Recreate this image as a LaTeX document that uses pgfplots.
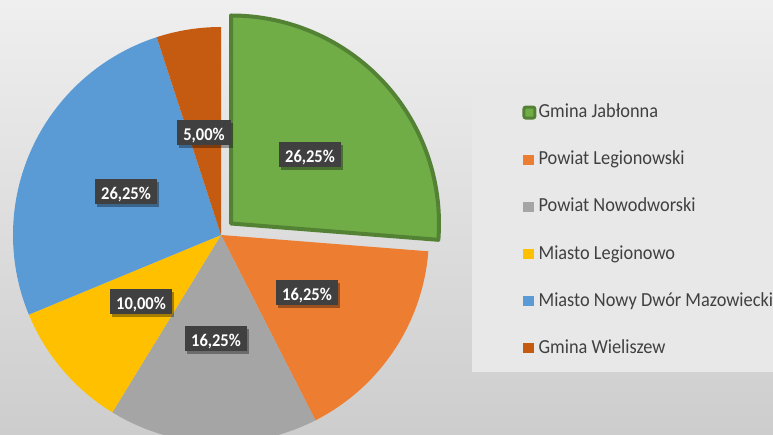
\documentclass[border=0pt]{standalone}
\usepackage{pgfplots}
\pgfplotsset{compat=1.18}
\usepackage{fontspec}
\setmainfont{Carlito}[FakeStretch=0.92]
\usetikzlibrary{shadows}

\definecolor{cJab}{HTML}{70AD47}
\definecolor{cJabE}{HTML}{548235}
\definecolor{cPL}{HTML}{ED7D31}
\definecolor{cPN}{HTML}{A5A5A5}
\definecolor{cML}{HTML}{FFC000}
\definecolor{cMN}{HTML}{5B9BD5}
\definecolor{cGW}{HTML}{C55A11}
\definecolor{lblbg}{HTML}{404040}
\definecolor{legbg}{HTML}{E8E8E8}
\definecolor{legtxt}{HTML}{404040}
\definecolor{bgtop}{HTML}{EFEFEF}
\definecolor{bgbot}{HTML}{CDCDCD}

% #1,#2 centre (axis units = bp), #3 start (percent), #4 value (percent), #5 style
\newcommand{\pieslice}[5]{%
  \path[#5] (axis cs:#1,#2) -- ++({90-3.6*(#3)}:208bp)
    arc[start angle={90-3.6*(#3)}, end angle={90-3.6*((#3)+(#4))}, radius=208bp] -- cycle;}

\tikzset{lbl/.style={fill=lblbg, text=white, font=\bfseries\fontsize{18}{20}\selectfont,
  inner xsep=6bp, inner ysep=0bp, minimum height=25bp, text height=14.4bp, text depth=0bp,
  drop shadow={shadow xshift=2bp, shadow yshift=-2.5bp, fill=black, opacity=0.35}}}

\newcommand{\legsq}[1]{\path (-1.5bp,0) (15bp,0); \fill[#1] (0bp,-6bp) rectangle (10bp,3bp);}

\begin{document}
\begin{tikzpicture}
\shade[top color=bgtop, bottom color=bgbot] (0,0) rectangle (773bp,435bp);
\begin{axis}[
  at={(0,0)}, anchor=south west,
  width=773bp, height=435bp, scale only axis,
  xmin=0, xmax=773, ymin=0, ymax=435,
  hide axis, clip=false,
  legend cell align=left,
  legend style={
    at={(0.6106,0.8046)}, anchor=north west,
    fill=legbg, draw=none,
    inner xsep=49.5bp, inner ysep=16bp,
    row sep=29.2bp,
    nodes={inner sep=0pt, text height=16bp, text depth=2bp},
    text=legtxt,
    font=\fontsize{20}{22}\selectfont,
  },
]
% slices: start %, value %
\pieslice{221}{200}{26.25}{16.25}{fill=cPL}
\pieslice{221}{200}{42.5}{16.25}{fill=cPN}
\pieslice{221}{200}{58.75}{10.00}{fill=cML}
\pieslice{221}{200}{68.75}{26.25}{fill=cMN}
\pieslice{221}{200}{95}{5.00}{fill=cGW}
\pieslice{231}{211.5}{0}{26.25}{fill=cJab, draw=cJabE, line width=4bp, line join=round}

\node[lbl] at (axis cs:310,280) {26,25\%};
\node[lbl] at (axis cs:204,302) {5,00\%};
\node[lbl] at (axis cs:126,243) {26,25\%};
\node[lbl] at (axis cs:141,133) {10,00\%};
\node[lbl] at (axis cs:216,96) {16,25\%};
\node[lbl] at (axis cs:307,142) {16,25\%};

\addlegendimage{legend image code/.code={\path (-1.5bp,0) (15bp,0);
   \path[fill=cJab, draw=cJabE, line width=3bp, rounded corners=2bp] (0.5bp,-7.9bp) rectangle (11.5bp,3.1bp);}}
\addlegendentry{Gmina Jabłonna}
\addlegendimage{legend image code/.code={\legsq{cPL}}}
\addlegendentry{Powiat Legionowski}
\addlegendimage{legend image code/.code={\legsq{cPN}}}
\addlegendentry{Powiat Nowodworski}
\addlegendimage{legend image code/.code={\legsq{cML}}}
\addlegendentry{Miasto Legionowo}
\addlegendimage{legend image code/.code={\legsq{cMN}}}
\addlegendentry{Miasto Nowy Dwór Mazowiecki}
\addlegendimage{legend image code/.code={\legsq{cGW}}}
\addlegendentry{Gmina Wieliszew}
\end{axis}
\pgfresetboundingbox
\useasboundingbox (0,0) rectangle (773bp,435bp);
\end{tikzpicture}
\end{document}
